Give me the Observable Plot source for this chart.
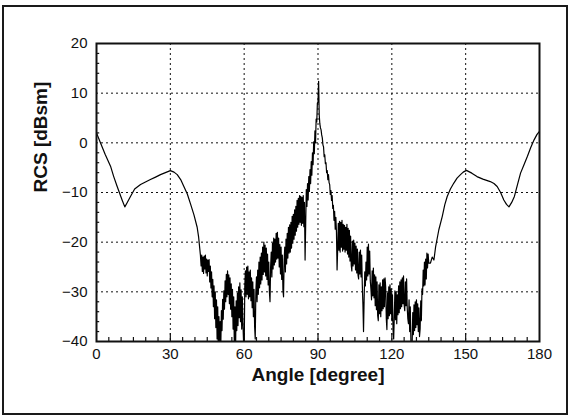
<!DOCTYPE html>
<html><head><meta charset="utf-8">
<script src="https://cdn.jsdelivr.net/npm/d3@7"></script>
<script src="https://cdn.jsdelivr.net/npm/@observablehq/plot@0.6"></script>
<style>
body{margin:0;background:#fff;}
#wrap{position:relative;width:569px;height:416px;}
#box{position:absolute;left:2px;top:5px;width:562px;height:406px;border:2px solid #1a1a1a;pointer-events:none;}
svg{font-family:"Liberation Sans",Arial,sans-serif;}
</style></head><body>
<div id="wrap"><div id="box"></div></div>
<script>
// smooth part, left
const angleLeft = [0,1.6,3.5,5.7,7,8.4,10.4,11.5,12.5,13.8,15.5,17.9,19.9,21.9,24,26,28,30,31.5,32.8,34.2,35.5,36.9,38.2,39.6,40.9,41.5,42.2];
const rcsLeft = [2,0,-2.3,-4.7,-6.8,-8.8,-11.5,-12.9,-12,-10.8,-9.3,-8.4,-7.9,-7.4,-6.9,-6.4,-6,-5.6,-5.9,-6.4,-7.4,-8.8,-10.3,-12.3,-14.5,-17,-19,-22.5];
// noisy part, sampled every 0.25 degree from 42.5 to 135
const noisyStart = 42.5, noisyStep = 0.25;
const rcsNoisy = [
-24.8,-22.6,-25.9,-23.0,-26.3,-22.8,-25.4,-22.6,-26.2,-23.4,-26.8,-23.6,-25.9,-23.5,-28.0,-24.8,-29.2,-26.0,-31.0,-27.5,
-33.0,-28.8,-35.4,-30.0,-37.2,-31.6,-39.5,-33.0,-42,-35.0,-42,-36.0,-41,-33.8,-37.8,-31.5,-35.5,-29.8,-33.5,-27.8,
-32.0,-26.5,-31.0,-25.8,-30.5,-26.6,-32.4,-27.2,-33.5,-28.4,-35.0,-29.5,-37.5,-31.0,-40.5,-33.0,-42,-31.8,-37.8,-30.2,
-36.8,-29.0,-35.2,-28.2,-36.0,-29.6,-37.5,-31.0,-36.5,-40,-42,-29.0,-25.8,-31.0,-25.0,-30.5,-24.8,-31.4,-26.0,-31.0,
-25.6,-31.8,-27.2,-33.2,-28.0,-35.0,-29.5,-37.0,-39.5,-30.0,-27.0,-32.0,-25.6,-30.5,-24.0,-29.2,-23.0,-28.4,-22.2,-27.6,
-21.0,-26.5,-20.0,-26.0,-20.6,-26.8,-21.2,-27.5,-22.4,-28.6,-24.0,-30.0,-32.0,-25.0,-22.0,-27.0,-20.2,-25.4,-19.2,-24.6,
-19.4,-24.0,-18.2,-23.4,-18.0,-23.2,-19.2,-25.0,-20.5,-26.4,-21.0,-27.5,-22.6,-29.6,-31.0,-23.6,-21.0,-26.0,-19.4,-24.4,
-18.2,-23.2,-17.0,-22.2,-16.5,-22.0,-16.0,-21.2,-14.8,-20.2,-14.4,-19.4,-13.5,-18.6,-12.8,-17.8,-11.6,-17.0,-11.2,-16.4,
-10.6,-16.0,-10.8,-16.6,-11.0,-16.2,-10.6,-16.9,-12.0,-23.6,-16.4,-9.4,-12.8,-8.2,-11.5,-6.8,-9.8,-5.4,-8.2,-3.8,
-6.5,-2.0,-4.4,0.2,-2.2,2.4,0.0,4.8,4.2,8.0,8.2,12.4,5.6,3.8,3.0,2.6,1.6,1.0,-0.4,-0.8,
-2.8,-2.4,-4.2,-4.0,-6.0,-5.6,-7.4,-6.4,-8.0,-8.4,-10.4,-9.6,-11.6,-10.6,-13.2,-12.6,-15.6,-13.8,-17.4,-15.0,
-18.0,-25.6,-21.2,-16.2,-21.6,-15.8,-22.0,-16.0,-21.0,-15.6,-21.8,-16.4,-21.4,-16.6,-22.0,-17.0,-21.6,-16.4,-22.4,-17.2,
-23.0,-17.6,-23.8,-18.8,-24.6,-25.8,-19.8,-24.8,-19.6,-24.4,-20.2,-25.6,-20.8,-26.2,-21.4,-26.6,-27.4,-22.0,-26.4,-21.6,
-27.0,-22.6,-28.6,-32.5,-38,-31.4,-26.0,-28.8,-24.0,-27.6,-21.0,-26.8,-20.4,-26.4,-21.8,-27.8,-29.4,-31.6,-25.8,-30.8,
-25.2,-31.2,-26.6,-32.8,-27.0,-33.6,-28.0,-34.8,-35.8,-28.6,-34.4,-28.2,-35.0,-29.0,-33.8,-27.6,-33.4,-27.4,-33.0,-27.2,
-29.0,-35.4,-37.6,-30.2,-35.4,-29.0,-34.8,-28.6,-34.4,-29.4,-35.8,-30.6,-37.8,-39.5,-35.0,-29.8,-35.6,-30.0,-36.4,-30.6,
-34.6,-28.8,-34.2,-28.0,-33.4,-27.6,-33.0,-27.2,-32.4,-26.8,-32.6,-33.8,-28.0,-32.8,-27.4,-33.2,-35.4,-36.4,-31.6,-38.0,
-33.0,-40,-42,-40.5,-34.2,-38.6,-32.6,-37.8,-32.0,-37.2,-31.6,-36.6,-32.4,-38.0,-33.2,-39.0,-37.4,-31.8,-35.8,-29.4,
-30.5,-25.6,-28.8,-24.0,-28.6,-23.4,-27.4,-22.2,-25.2,-22.4,-24.2];
// smooth part, right
const angleRight = [135.7,136.4,137.1,137.8,139.1,140.5,141.5,142.5,143.8,145.2,146.5,147.9,149,150.3,152.5,154.6,157,160,161.5,162.8,164.2,165.5,166.6,167.6,168.7,169.8,171,172.3,173.7,175.1,176.4,177.8,179,180];
const rcsRight = [-24.2,-23,-23.6,-20.9,-17.5,-14.8,-12.5,-10.8,-9.3,-8.1,-7.1,-6.4,-5.9,-5.55,-6.1,-6.8,-7.3,-7.8,-8.2,-8.8,-10,-11.5,-12.4,-12.9,-12,-10.8,-8.5,-6.1,-4.4,-2.7,-1,0.6,1.7,2.3];

const xTicks = [0,30,60,90,120,150,180];
const yTicks = [-40,-30,-20,-10,0,10,20];
const xMinor = [5,10,15,20,25,35,40,45,50,55,65,70,75,80,85,95,100,105,110,115,125,130,135,140,145,155,160,165,170,175];
const yMinor = [-38,-36,-34,-32,-28,-26,-24,-22,-18,-16,-14,-12,-8,-6,-4,-2,2,4,6,8,12,14,16,18];
const xLabel = "Angle [degree]";
const yLabel = "RCS [dBsm]";

const data = [
  ...angleLeft.map((a,i)=>({a, v: rcsLeft[i]})),
  ...rcsNoisy.map((v,i)=>({a: noisyStart + i*noisyStep, v})),
  ...angleRight.map((a,i)=>({a, v: rcsRight[i]}))
];
const ink = "#111";
const chart = Plot.plot({
  width: 569, height: 416,
  marginLeft: 96, marginRight: 30, marginTop: 43, marginBottom: 75,
  style: {fontFamily: '"Liberation Sans", Arial, sans-serif', fontSize: "15px", color: ink, background: "transparent"},
  x: {domain: [0,180], ticks: xTicks, tickSize: 0, label: null},
  y: {domain: [-40,20], ticks: yTicks, tickSize: 0, label: null},
  marks: [
    Plot.ruleX(xTicks.slice(1,-1), {stroke: ink, strokeWidth: 1, strokeDasharray: "2,3"}),
    Plot.ruleY(yTicks.slice(1,-1), {stroke: ink, strokeWidth: 1, strokeDasharray: "2,3"}),
    Plot.ruleX(xMinor, {y1: -40, y2: -39.2, stroke: ink, strokeWidth: 1.2}),
    Plot.ruleX(xTicks.slice(1,-1), {y1: -40, y2: -38.4, stroke: ink, strokeWidth: 1.2}),
    Plot.ruleY(yMinor, {x1: 0, x2: 1.3, stroke: ink, strokeWidth: 1.2}),
    Plot.line(data, {x: "a", y: "v", stroke: "#000", strokeWidth: 1.2, clip: true}),
    Plot.frame({stroke: ink, strokeWidth: 2}),
    Plot.axisX({ticks: xTicks, tickSize: 0, tickPadding: 7, fontSize: 15}),
    Plot.axisY({ticks: yTicks, tickSize: 0, tickPadding: 9, fontSize: 15}),
    Plot.text([xLabel], {frameAnchor: "bottom", dy: 39, text: d => d, fontSize: 19, fontWeight: "bold", fill: ink}),
    Plot.text([yLabel], {frameAnchor: "left", dx: -56, rotate: -90, text: d => d, fontSize: 19, fontWeight: "bold", fill: ink})
  ]
});
chart.style.position = "absolute";
chart.style.left = "0px";
chart.style.top = "0px";
document.getElementById("wrap").prepend(chart);
</script>
</body></html>
